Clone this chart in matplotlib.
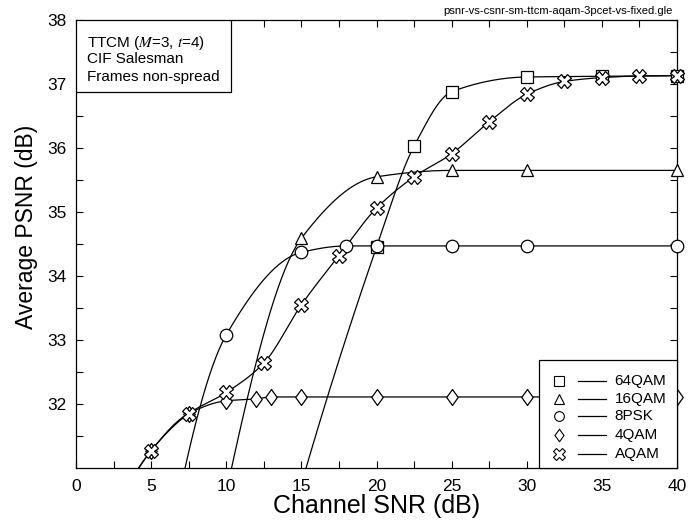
import numpy as np
import matplotlib
matplotlib.use("Agg")
import matplotlib.pyplot as plt
from matplotlib.path import Path
from matplotlib.patches import Rectangle
from matplotlib.lines import Line2D

plt.rcParams['font.family'] = ['Liberation Sans', 'DejaVu Sans']
plt.rcParams['mathtext.fontset'] = 'stix'

# ---- data (points below 31 dB are off-axis estimates) ----
x_64qam = [15, 20, 22.5, 25, 30, 35, 40]
y_64qam = [30.75, 34.45, 36.03, 36.88, 37.11, 37.12, 37.13]

x_16qam = [10, 15, 20, 25, 30, 40]
y_16qam = [30.62, 34.59, 35.55, 35.65, 35.65, 35.65]

x_8psk = [5, 10, 15, 18, 20, 25, 30, 40]
y_8psk = [28.3, 33.08, 34.37, 34.47, 34.47, 34.47, 34.47, 34.47]

x_4qam = [2.5, 5, 7.5, 10, 12, 13, 15, 20, 25, 30, 35, 40]
y_4qam = [30.3, 31.27, 31.85, 32.05, 32.08, 32.11, 32.11, 32.11, 32.11, 32.11, 32.11, 32.11]

x_aqam = [2.5, 5, 7.5, 10, 12.5, 15, 17.5, 20, 22.5, 25, 27.5, 30, 32.5, 35, 37.5, 40]
y_aqam = [30.3, 31.27, 31.85, 32.18, 32.64, 33.55, 34.32, 35.06, 35.55, 35.91, 36.41,
          36.84, 37.04, 37.10, 37.125, 37.13]

labels = ['64QAM', '16QAM', '8PSK', '4QAM', 'AQAM']
x_ticks = [0, 5, 10, 15, 20, 25, 30, 35, 40]
y_ticks = [32, 33, 34, 35, 36, 37, 38]
Y_MIN, Y_MAX = 31.0, 38.0


def pchip(x, y, xs):
    x = np.asarray(x, float); y = np.asarray(y, float)
    n = len(x)
    h = np.diff(x); dl = np.diff(y) / h
    d = np.zeros(n)
    for k in range(1, n - 1):
        if dl[k - 1] * dl[k] > 0:
            w1 = 2 * h[k] + h[k - 1]
            w2 = h[k] + 2 * h[k - 1]
            d[k] = (w1 + w2) / (w1 / dl[k - 1] + w2 / dl[k])
    def endslope(h0, h1, d0, d1):
        s = ((2 * h0 + h1) * d0 - h0 * d1) / (h0 + h1)
        if np.sign(s) != np.sign(d0):
            s = 0.0
        elif np.sign(d0) != np.sign(d1) and abs(s) > abs(3 * d0):
            s = 3 * d0
        return s
    if n > 2:
        d[0] = endslope(h[0], h[1], dl[0], dl[1])
        d[-1] = endslope(h[-1], h[-2], dl[-1], dl[-2])
    else:
        d[:] = dl[0]
    xs = np.asarray(xs, float)
    idx = np.clip(np.searchsorted(x, xs) - 1, 0, n - 2)
    t = (xs - x[idx]) / h[idx]
    h00 = 2 * t**3 - 3 * t**2 + 1
    h10 = t**3 - 2 * t**2 + t
    h01 = -2 * t**3 + 3 * t**2
    h11 = t**3 - t**2
    return h00 * y[idx] + h10 * h[idx] * d[idx] + h01 * y[idx + 1] + h11 * h[idx] * d[idx + 1]


diamond = Path([(0, 1), (0.72, 0), (0, -1), (-0.72, 0), (0, 1)],
               [Path.MOVETO, Path.LINETO, Path.LINETO, Path.LINETO, Path.CLOSEPOLY])

series = [
    (x_64qam, y_64qam, 's', 8.5),
    (x_16qam, y_16qam, '^', 9),
    (x_8psk, y_8psk, 'o', 9),
    (x_4qam, y_4qam, diamond, 11.5),
    (x_aqam, y_aqam, 'X', 9.5),
]

fig = plt.figure(figsize=(7.0, 5.24), dpi=100)
ax = fig.add_axes([0.1086, 0.1069, 0.8586, 0.8549])

for i, (xs, ys, mk, ms) in enumerate(series):
    xf = np.linspace(xs[0], xs[-1], 600)
    ax.plot(xf, pchip(xs, ys, xf), color='black', lw=0.9, zorder=2 + i * 0.1)
for i, (xs, ys, mk, ms) in enumerate(series):
    xa = np.asarray(xs, float); ya = np.asarray(ys, float)
    vis = ya >= Y_MIN
    ax.plot(xa[vis], ya[vis], linestyle='none', marker=mk, markersize=ms,
            markerfacecolor='white', markeredgecolor='black', markeredgewidth=0.9,
            zorder=3 + i * 0.1, clip_on=False)

ax.set_xlim(0, 40)
ax.set_ylim(Y_MIN, Y_MAX)
ax.set_xticks(x_ticks)
ax.set_yticks(y_ticks)
ax.set_xticks(np.arange(2.5, 40, 5), minor=True)
ax.set_yticks(np.arange(31.5, 38, 1.0), minor=True)
ax.tick_params(which='both', direction='in', top=True, right=True, length=5, width=0.8,
               labelsize=12.5)
ax.tick_params(axis='x', pad=8)
ax.tick_params(axis='y', pad=7)
for s in ax.spines.values():
    s.set_linewidth(0.9)

ax.set_xlabel('Channel SNR (dB)', fontsize=18, labelpad=0)
ax.text(-0.083, 0.538, 'Average PSNR (dB)', transform=ax.transAxes, rotation=90,
        fontsize=16.5, ha='center', va='center')

# annotation box (top-left)
ax.add_patch(Rectangle((0, 0.839), 0.258, 0.161, transform=ax.transAxes, facecolor='white',
                       edgecolor='black', lw=0.9, zorder=10))
ann_lines = ['TTCM ($M$=3, $t$=4)', 'CIF Salesman', 'Frames non-spread']
for txt, yy in zip(ann_lines, [0.949, 0.912, 0.873]):
    ax.text(0.018, yy, txt, transform=ax.transAxes, fontsize=11, va='center', ha='left',
            zorder=11)

# legend (bottom-right)
ax.add_patch(Rectangle((0.7695, 0), 0.2305, 0.241, transform=ax.transAxes, facecolor='white',
                       edgecolor='black', lw=0.9, zorder=10, clip_on=False))
leg_y = [0.195, 0.155, 0.115, 0.074, 0.031]
leg_ms = [7, 7, 7, 9, 8]
for (xs, ys, mk, ms), lab, yy, lms in zip(series, labels, leg_y, leg_ms):
    ax.add_line(Line2D([0.804], [yy], transform=ax.transAxes, marker=mk, markersize=lms,
                       markerfacecolor='white', markeredgecolor='black', markeredgewidth=0.8,
                       linestyle='none', zorder=11))
    ax.add_line(Line2D([0.836, 0.881], [yy, yy], transform=ax.transAxes, color='black',
                       lw=0.9, zorder=11))
    ax.text(0.896, yy, lab, transform=ax.transAxes, fontsize=11, va='center', ha='left',
            zorder=11)

fig.text(0.961, 0.988, 'psnr-vs-csnr-sm-ttcm-aqam-3pcet-vs-fixed.gle', fontsize=8.1,
         ha='right', va='top')

fig.savefig('out.png', dpi=100)
